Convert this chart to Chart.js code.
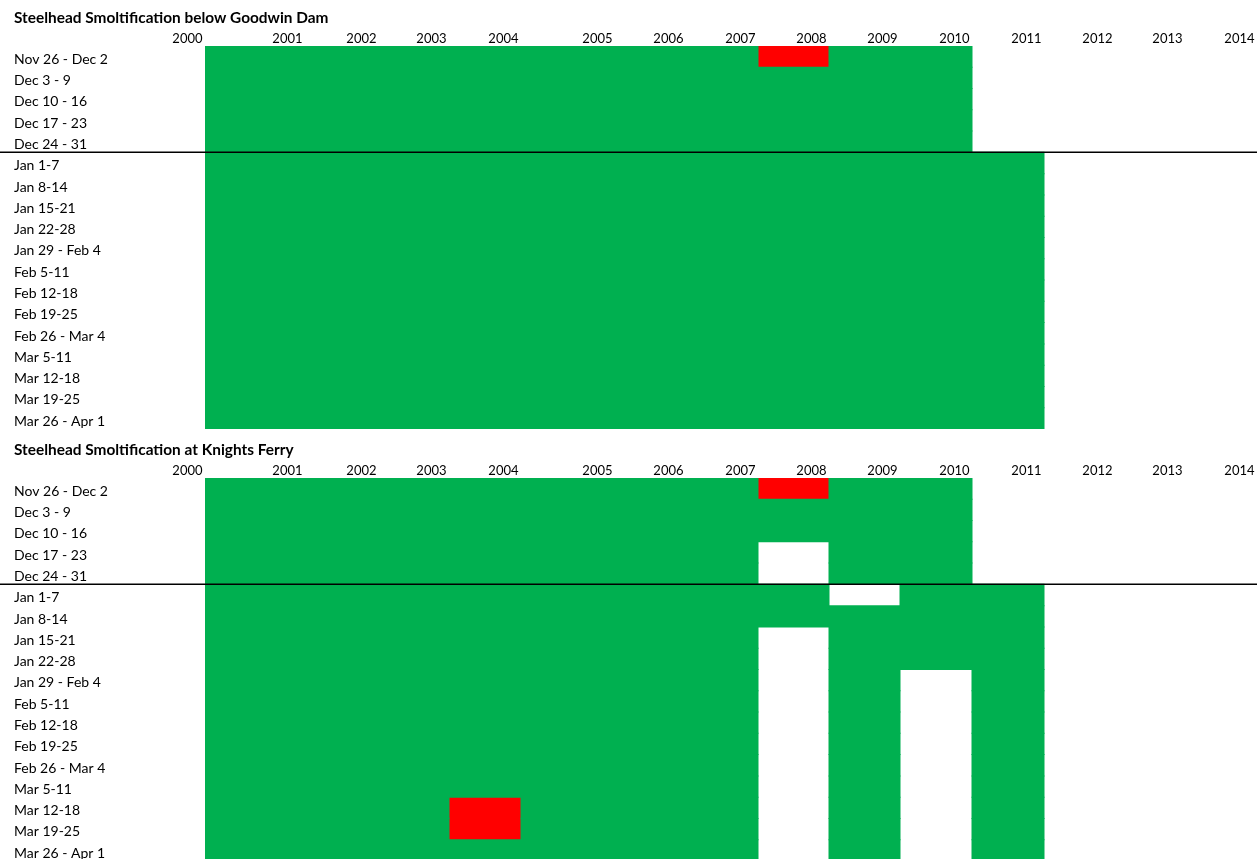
<!DOCTYPE html>
<html>
<head>
<meta charset="utf-8">
<script src="https://cdn.jsdelivr.net/npm/chart.js@4/dist/chart.umd.min.js"></script>
<style>
  html, body { margin: 0; padding: 0; background: #fff; overflow: hidden; width: 1257px; height: 859px; }
  .panel { position: absolute; left: 0; width: 1257px; height: 432px; }
  #p1 { top: 0; }
  #p2 { top: 432px; }
</style>
</head>
<body>
<div class="panel" id="p1"><canvas id="c1"></canvas></div>
<div class="panel" id="p2"><canvas id="c2"></canvas></div>
<script>
// ---- data ----
const weeks = [
  'Nov 26 - Dec 2', 'Dec 3 - 9', 'Dec 10 - 16', 'Dec 17 - 23', 'Dec 24 - 31',
  'Jan 1-7', 'Jan 8-14', 'Jan 15-21', 'Jan 22-28', 'Jan 29 - Feb 4',
  'Feb 5-11', 'Feb 12-18', 'Feb 19-25', 'Feb 26 - Mar 4',
  'Mar 5-11', 'Mar 12-18', 'Mar 19-25', 'Mar 26 - Apr 1'
];
const yearLabels = ['2000', '2001', '2002', '2003', '2004', '2005', '2006', '2007',
  '2008', '2009', '2010', '2011', '2012', '2013', '2014'];
// cell columns are years 2001..2014; G = green, R = red, . = blank
const goodwinCells = [
  'GGGGGGGRGG....',
  'GGGGGGGGGG....',
  'GGGGGGGGGG....',
  'GGGGGGGGGG....',
  'GGGGGGGGGG....',
  'GGGGGGGGGGG...',
  'GGGGGGGGGGG...',
  'GGGGGGGGGGG...',
  'GGGGGGGGGGG...',
  'GGGGGGGGGGG...',
  'GGGGGGGGGGG...',
  'GGGGGGGGGGG...',
  'GGGGGGGGGGG...',
  'GGGGGGGGGGG...',
  'GGGGGGGGGGG...',
  'GGGGGGGGGGG...',
  'GGGGGGGGGGG...',
  'GGGGGGGGGGG...'
];
const knightsCells = [
  'GGGGGGGRGG....',
  'GGGGGGGGGG....',
  'GGGGGGGGGG....',
  'GGGGGGG.GG....',
  'GGGGGGG.GG....',
  'GGGGGGGG.GG...',
  'GGGGGGGGGGG...',
  'GGGGGGG.GGG...',
  'GGGGGGG.GGG...',
  'GGGGGGG.G.G...',
  'GGGGGGG.G.G...',
  'GGGGGGG.G.G...',
  'GGGGGGG.G.G...',
  'GGGGGGG.G.G...',
  'GGGGGGG.G.G...',
  'GGGRGGG.G.G...',
  'GGGRGGG.G.G...',
  'GGGGGGG.G.G...'
];

// ---- layout (sheet column widths, not data) ----
const colWidths = [100, 74, 70, 72, 94, 71, 72, 71, 71, 72, 72, 71, 70, 72];
const edges = [0];
colWidths.forEach(w => edges.push(edges[edges.length - 1] + w));
const xMax = edges[edges.length - 1];

const GREEN = '#00B050';
const RED = '#FF0000';

function runs(cells, code) {
  const out = [];
  cells.forEach((row, r) => {
    let c = 0;
    while (c < row.length) {
      if (row[c] === code) {
        let e = c;
        while (e + 1 < row.length && row[e + 1] === code) e++;
        out.push({ y: weeks[r], x: [edges[c], edges[e + 1]] });
        c = e + 1;
      } else c++;
    }
  });
  return out;
}

const separator = {
  id: 'separator',
  afterDatasetsDraw(chart) {
    const y = chart.scales.y;
    const py = (y.getPixelForTick(4) + y.getPixelForTick(5)) / 2;
    const ctx = chart.ctx;
    ctx.save();
    ctx.strokeStyle = '#000';
    ctx.lineWidth = 1.5;
    ctx.beginPath();
    ctx.moveTo(0, py);
    ctx.lineTo(chart.width, py);
    ctx.stroke();
    ctx.restore();
  }
};

function makeChart(id, title, cells) {
  const barStyle = { barPercentage: 1, categoryPercentage: 1, grouped: false, borderWidth: 0, inflateAmount: 0.5 };
  return new Chart(document.getElementById(id), {
    type: 'bar',
    data: {
      labels: weeks,
      datasets: [
        Object.assign({ label: 'green', data: runs(cells, 'G'), backgroundColor: GREEN }, barStyle),
        Object.assign({ label: 'red', data: runs(cells, 'R'), backgroundColor: RED }, barStyle)
      ]
    },
    options: {
      indexAxis: 'y',
      responsive: true,
      maintainAspectRatio: false,
      animation: false,
      layout: { padding: { left: 14, right: 0, top: 0, bottom: 3 } },
      plugins: {
        legend: { display: false },
        tooltip: { enabled: false },
        title: {
          display: true, text: title, align: 'start', color: '#000',
          font: { family: 'Lato', size: 15.4, weight: 'bold', lineHeight: 1.2 },
          padding: { top: 8.6, bottom: 0 }
        }
      },
      scales: {
        y: {
          type: 'category',
          grid: { display: false, drawTicks: false },
          border: { display: false },
          ticks: {
            crossAlign: 'far', color: '#000', font: { family: 'Lato', size: 14 }, padding: 0, autoSkip: false,
            labelOffset: 2.8
          },
          afterFit: s => { s.width = 191; s.paddingTop = 0; s.paddingBottom = 0; }
        },
        x: {
          type: 'linear',
          position: 'top',
          min: 0, max: xMax,
          grid: { display: false, drawTicks: false },
          border: { display: false },
          afterBuildTicks: s => { s.ticks = edges.map(v => ({ value: v })); },
          ticks: {
            align: 'end', labelOffset: -2.5, autoSkip: false, maxRotation: 0, padding: -1,
            color: '#000', font: { family: 'Lato', size: 13 },
            callback: (v, i) => yearLabels[i]
          },
          afterFit: s => { s.height = 18.9; }
        }
      }
    },
    plugins: [separator]
  });
}

makeChart('c1', 'Steelhead Smoltification below Goodwin Dam', goodwinCells);
makeChart('c2', 'Steelhead Smoltification at Knights Ferry', knightsCells);
</script>
</body>
</html>
